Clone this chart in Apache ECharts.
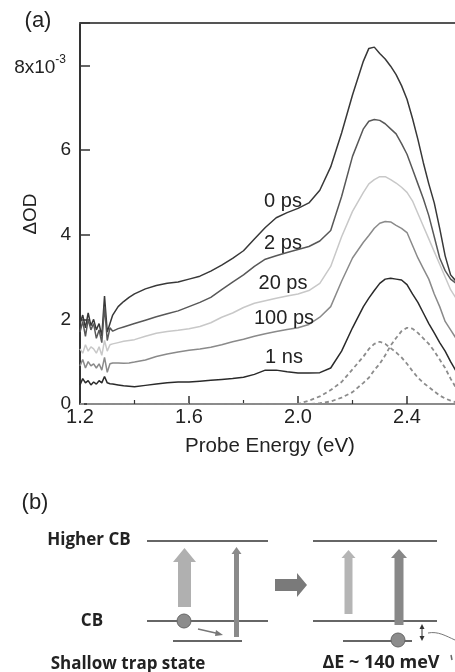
<!DOCTYPE html>
<html>
<head>
<meta charset="utf-8">
<script src="https://cdn.jsdelivr.net/npm/echarts@6/dist/echarts.min.js"></script>
<style>
html,body{margin:0;padding:0;background:#fff;}
#chart{width:455px;height:672px;}
</style>
</head>
<body>
<div id="chart"></div>
<script>
// Probe energy grid (eV)
var energy = [1.20,1.21,1.22,1.23,1.24,1.25,1.26,1.27,1.28,1.29,1.30,1.31,1.32,1.34,1.36,1.38,1.40,
  1.44,1.48,1.52,1.56,1.60,1.64,1.68,1.72,1.76,1.80,1.84,1.88,1.92,1.96,2.00,2.04,2.08,2.12,2.16,2.20,2.24,
  2.26,2.28,2.30,2.32,2.34,2.36,2.38,2.40,2.42,2.44,2.46,2.48,2.50,2.52,2.54,2.56,2.58,2.60];

// ΔOD values in units of 1e-3
var od0ps = [1.9,2.1,1.8,2.15,1.85,2.0,1.75,1.9,1.6,2.55,1.7,1.9,2.1,2.3,2.42,2.52,2.6,
  2.72,2.8,2.85,2.88,2.95,3.02,3.14,3.28,3.44,3.62,3.9,4.17,4.4,4.52,4.62,4.75,5.05,5.6,6.4,7.3,8.1,
  8.4,8.43,8.28,8.15,7.98,7.78,7.52,7.2,6.75,6.25,5.7,5.2,4.75,4.15,3.5,3.05,2.9,2.85];
var od2ps = [1.7,1.95,1.6,2.0,1.75,1.9,1.55,1.75,1.45,2.3,1.5,1.8,1.72,1.78,1.82,1.86,1.9,
  1.98,2.06,2.13,2.2,2.3,2.4,2.52,2.7,2.88,3.05,3.25,3.42,3.5,3.58,3.65,3.72,3.85,4.1,4.9,5.85,6.5,
  6.68,6.72,6.7,6.62,6.5,6.38,6.15,5.9,5.55,5.2,4.85,4.45,3.95,3.45,3.15,2.95,2.85,2.8];
var od20ps = [1.3,1.2,1.4,1.25,1.35,1.3,1.2,1.35,1.15,1.5,1.25,1.4,1.42,1.45,1.48,1.5,1.52,
  1.6,1.67,1.71,1.74,1.78,1.83,1.92,2.05,2.15,2.28,2.38,2.44,2.5,2.55,2.6,2.68,2.85,3.25,3.95,4.55,5.0,
  5.2,5.3,5.37,5.37,5.3,5.22,5.12,5.0,4.8,4.5,4.2,3.9,3.6,3.3,3.0,2.7,2.5,2.4];
var od100ps = [0.9,1.05,0.85,1.0,0.9,0.95,0.85,0.95,0.8,1.1,0.75,0.95,0.97,0.97,0.96,0.97,0.99,
  1.04,1.12,1.18,1.23,1.27,1.3,1.34,1.4,1.47,1.53,1.6,1.66,1.71,1.76,1.8,1.88,2.05,2.3,2.9,3.45,3.82,
  3.98,4.15,4.27,4.31,4.3,4.22,4.15,4.05,3.75,3.45,3.2,2.95,2.6,2.3,1.95,1.75,1.55,1.45];
var od1ns = [0.45,0.6,0.5,0.55,0.45,0.52,0.47,0.55,0.5,0.65,0.5,0.48,0.47,0.45,0.43,0.42,0.41,
  0.44,0.47,0.5,0.52,0.52,0.54,0.56,0.58,0.6,0.63,0.7,0.8,0.8,0.76,0.73,0.73,0.74,0.85,1.25,1.8,2.3,
  2.5,2.68,2.85,2.95,2.97,2.95,2.93,2.82,2.6,2.4,2.15,1.9,1.68,1.45,1.25,1.0,0.78,0.7];
var fitLow = [0,0,0,0,0,0,0,0,0,0,0,0,0,0,0,0,0,
  0,0,0,0,0,0,0,0,0,0,0,0,0,0,0,0.08,0.18,0.33,0.52,0.82,1.12,
  1.3,1.42,1.47,1.42,1.32,1.22,1.1,0.95,0.78,0.62,0.5,0.4,0.3,0.2,0.13,0.08,0.04,0.02];
var fitHigh = [0,0,0,0,0,0,0,0,0,0,0,0,0,0,0,0,0,
  0,0,0,0,0,0,0,0,0,0,0,0,0,0,0,0,0.02,0.06,0.15,0.28,0.5,
  0.62,0.8,0.95,1.15,1.38,1.56,1.72,1.8,1.78,1.68,1.55,1.42,1.25,1.05,0.85,0.6,0.38,0.25];

var curveNames = ['0 ps','2 ps','20 ps','100 ps','1 ns'];
var xTickLabels = ['1.2','1.6','2.0','2.4'];
var yTickLabels = ['0','2','4','6','8x10-3'];

function pairs(arr){ return energy.map(function(e,i){ return [e, arr[i]]; }); }

var FONT = '"Liberation Sans", Arial, sans-serif';
var BFONT = '"Open Sans", "Liberation Sans", sans-serif';

var solidColors = ['#383838','#585858','#c8c8c8','#8a8a8a','#2a2a2a'];
var solidData = [od0ps, od2ps, od20ps, od100ps, od1ns];

var series = [];
[fitLow, fitHigh].forEach(function(arr){
  series.push({type:'line', data:pairs(arr), symbol:'none', silent:true,
    lineStyle:{color:'#8c8c8c', width:1.8, type:[4,3]}, z:2});
});
solidData.forEach(function(arr,i){
  series.push({type:'line', name:curveNames[i], data:pairs(arr), symbol:'none', silent:true,
    lineStyle:{color:solidColors[i], width:1.5}, z:3});
});

function txt(t, x, y, opt){
  opt = opt || {};
  return {type:'text', x:x, y:y, rotation:opt.rotation||0, silent:true, z:10, style:{
    text:t, fill:opt.fill||'#222', font:opt.font||('20px '+FONT),
    align:opt.align||'center', verticalAlign:'middle',
    textAlign:opt.align||'center', textVerticalAlign:'middle'}};
}
function hline(x1,x2,y,color,w){
  return {type:'line', silent:true, shape:{x1:x1,y1:y,x2:x2,y2:y}, style:{stroke:color||'#333', lineWidth:w||1.5}};
}
function upArrow(cx, yBottom, yHeadBase, yTip, shaftW, headW, color){
  return {type:'polygon', silent:true, shape:{points:[
    [cx-shaftW/2,yBottom],[cx-shaftW/2,yHeadBase],[cx-headW/2,yHeadBase],[cx,yTip],
    [cx+headW/2,yHeadBase],[cx+shaftW/2,yHeadBase],[cx+shaftW/2,yBottom]]},
    style:{fill:color}};
}

var graphics = [
  txt('(a)', 38, 21, {font:'22px '+FONT}),
  txt('\u0394OD', 31, 214, {rotation:Math.PI/2, font:'19px '+FONT}),
  txt('Probe Energy (eV)', 270, 446, {font:'20.5px '+FONT}),
  txt('0 ps', 283, 201),
  txt('2 ps', 283, 243),
  txt('20 ps', 283, 283),
  txt('100 ps', 284, 318),
  txt('1 ns', 284, 357),
  // panel (b)
  txt('(b)', 35, 503, {font:'22px '+FONT}),
  txt('Higher CB', 89, 540, {font:'bold 17px '+BFONT}),
  txt('CB', 92, 621, {font:'bold 17px '+BFONT}),
  txt('Shallow trap state', 128, 664, {font:'bold 17px '+BFONT}),
  txt('\u0394E ~ 140 meV', 381, 663, {font:'bold 18px '+BFONT}),
  hline(147,268,541), hline(147,268,621), hline(173,242,641),
  hline(313,437,541), hline(313,437,621), hline(343,412,641),
  upArrow(184.5, 607, 562, 548, 13, 23, '#b0b0b0'),
  upArrow(236.5, 637, 554, 547, 5, 10, '#8a8a8a'),
  upArrow(348.5, 614, 558, 550, 8, 14, '#b5b5b5'),
  upArrow(399, 625, 558, 549, 9, 16, '#888888'),
  {type:'polygon', silent:true, shape:{points:[[275,579],[297,579],[297,573],[307,585],[297,597],[297,591],[275,591]]}, style:{fill:'#7a7a7a'}},
  {type:'circle', silent:true, shape:{cx:184, cy:621, r:7}, style:{fill:'#8c8c8c', stroke:'#666', lineWidth:1}},
  {type:'circle', silent:true, shape:{cx:398, cy:640, r:7}, style:{fill:'#8c8c8c', stroke:'#666', lineWidth:1}},
  {type:'line', silent:true, shape:{x1:198,y1:629,x2:220,y2:634}, style:{stroke:'#777', lineWidth:1.3}},
  {type:'polygon', silent:true, shape:{points:[[223,635],[216,630],[215,636]]}, style:{fill:'#777'}},
  // double-headed small arrow
  {type:'line', silent:true, shape:{x1:422,y1:626,x2:422,y2:639}, style:{stroke:'#333', lineWidth:1}},
  {type:'polygon', silent:true, shape:{points:[[422,624],[419.5,629],[424.5,629]]}, style:{fill:'#333'}},
  {type:'polygon', silent:true, shape:{points:[[422,641],[419.5,636],[424.5,636]]}, style:{fill:'#333'}},
  {type:'bezierCurve', silent:true, shape:{x1:428,y1:633,x2:455,y2:640,cpx1:438,cpy1:631,cpx2:446,cpy2:636}, style:{stroke:'#777', lineWidth:1, fill:null}},
  {type:'line', silent:true, shape:{x1:451,y1:655,x2:452,y2:660}, style:{stroke:'#666', lineWidth:1.5}}
];

var chart = echarts.init(document.getElementById('chart'), null, {renderer:'canvas'});
chart.setOption({
  animation:false,
  backgroundColor:'#fff',
  grid:{left:80, top:23, width:436, height:381, containLabel:false, outerBoundsMode:'none'},
  xAxis:[{
    type:'value', min:1.2, max:2.8, interval:0.4, position:'bottom',
    axisLine:{show:true, onZero:false, lineStyle:{color:'#666', width:1.5}},
    axisTick:{show:true, inside:true, length:8, lineStyle:{color:'#333', width:1.5}},
    minorTick:{show:true, splitNumber:2, length:4, lineStyle:{color:'#333', width:1.2}},
    splitLine:{show:false}, minorSplitLine:{show:false},
    axisLabel:{fontSize:20, fontFamily:FONT, color:'#222', margin:3,
      formatter:function(v){ var s=v.toFixed(1); return xTickLabels.indexOf(s)>=0 ? s : ''; }}
  },{
    type:'value', min:1.2, max:2.8, position:'top',
    axisLine:{show:true, onZero:false, lineStyle:{color:'#555', width:2}},
    axisTick:{show:false}, axisLabel:{show:false}, splitLine:{show:false}
  }],
  yAxis:{
    type:'value', min:0, max:9, interval:2,
    axisLine:{show:true, onZero:false, lineStyle:{color:'#333', width:2}},
    axisTick:{show:true, inside:true, length:10, lineStyle:{color:'#333', width:1.5}},
    splitLine:{show:false},
    axisLabel:{fontSize:19, fontFamily:FONT, color:'#222', margin:9,
      formatter:function(v){
        var idx = Math.round(v/2);
        if (Math.abs(v-idx*2)>1e-6 || idx>=yTickLabels.length) return '';
        var s = yTickLabels[idx];
        if (s.indexOf('x10')>=0){ var p=s.split('x10'); return '{b|'+p[0]+'x10}{s|'+p[1]+'}'; }
        return s;
      },
      rich:{b:{fontSize:19, fontFamily:FONT, color:'#222', lineHeight:24, verticalAlign:'bottom'},
            s:{fontSize:12, fontFamily:FONT, color:'#222', lineHeight:24, verticalAlign:'top', padding:[0,5,0,0]}}}
  },
  series:series,
  graphic:graphics
});
</script>
</body>
</html>
